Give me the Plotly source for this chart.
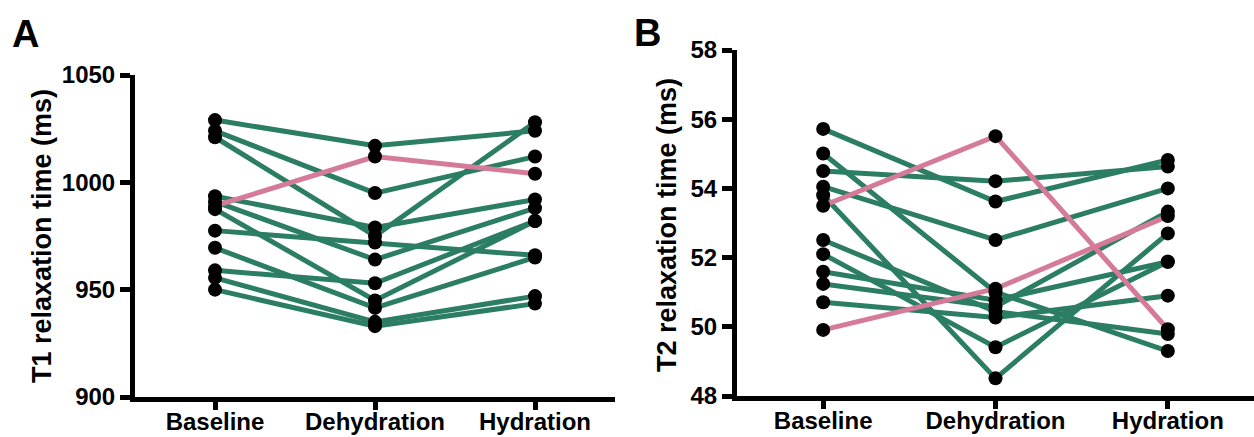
import plotly.graph_objects as go

W, H = 1254, 437
categories = ["Baseline", "Dehydration", "Hydration"]

# Panel A: T1 relaxation time (ms), one row per subject [Baseline, Dehydration, Hydration]
t1_subjects = [
    [1029, 1017, 1024],
    [1024, 995, 1012],
    [1021, 975, 1028],
    [993.5, 979, 992],
    [991, 964, 988],
    [987.5, 945, 982],
    [977.5, 972, 966],
    [969.5, 941.5, 965],
    [959, 953, 982],
    [955.5, 935, 947],
    [950, 933, 943.5],
]
t1_highlight = [[989, 1012, 1004]]

# Panel B: T2 relaxation time (ms)
t2_subjects = [
    [55.72, 53.62, 54.82],
    [55.01, 51.0, 49.3],
    [54.5, 54.21, 54.63],
    [54.05, 52.51, 54.0],
    [53.8, 48.51, 52.7],
    [52.51, 50.44, 49.79],
    [52.1, 49.41, 51.88],
    [51.59, 50.77, 51.88],
    [51.24, 50.58, 53.33],
    [50.71, 50.27, 50.9],
]
t2_highlight = [
    [53.5, 55.51, 49.93],
    [49.91, 51.1, 53.2],
]

t1_ticks = [900, 950, 1000, 1050]
t2_ticks = [48, 50, 52, 54, 56, 58]

GREEN = "#2B7D63"
PINK = "#D67A9A"
FONT = "Liberation Sans, Arial, sans-serif"

fig = go.Figure()


def add_panel(subjects, highlight, xa, ya):
    for s in subjects:
        fig.add_trace(go.Scatter(x=categories, y=s, mode="lines",
                                 line=dict(color=GREEN, width=5),
                                 xaxis=xa, yaxis=ya, showlegend=False,
                                 hoverinfo="skip"))
    for s in highlight:
        fig.add_trace(go.Scatter(x=categories, y=s, mode="lines",
                                 line=dict(color=PINK, width=5),
                                 xaxis=xa, yaxis=ya, showlegend=False,
                                 hoverinfo="skip"))
    for s in subjects + highlight:
        fig.add_trace(go.Scatter(x=categories, y=s, mode="markers",
                                 marker=dict(color="black", size=14),
                                 xaxis=xa, yaxis=ya, showlegend=False,
                                 cliponaxis=False))


add_panel(t1_subjects, t1_highlight, "x", "y")
add_panel(t2_subjects, t2_highlight, "x2", "y2")


def px_x(p):
    return p / W


def px_y(p):
    return (H - p) / H


axis_common = dict(showline=True, linecolor="black", linewidth=5,
                   ticks="outside", tickwidth=5, tickcolor="black",
                   showgrid=False, zeroline=False, automargin=False,
                   tickfont=dict(family=FONT, size=24, color="black", weight="bold"))
x_extra = dict(ticklen=8, ticklabelstandoff=-9)
y_extra = dict(ticklen=10)

fig.update_layout(
    template="none",
    width=W, height=H,
    margin=dict(l=0, r=0, t=0, b=0, pad=0),
    paper_bgcolor="white", plot_bgcolor="white",
    font=dict(family=FONT, color="black"),
    xaxis=dict(domain=[px_x(135), px_x(615)], range=[-0.5, 2.5], anchor="y",
               type="category", **axis_common, **x_extra),
    yaxis=dict(domain=[px_y(397), px_y(75)], range=[900, 1050], anchor="x",
               tickvals=t1_ticks, **axis_common, **y_extra),
    xaxis2=dict(domain=[px_x(737), 1.0], range=[-0.5, 2.5], anchor="y2",
                type="category", **axis_common, **x_extra),
    yaxis2=dict(domain=[px_y(396), px_y(50)], range=[48, 58], anchor="x2",
                tickvals=t2_ticks, **axis_common, **y_extra),
)

annots = [
    dict(text="<b>T1 relaxation time (ms)</b>", x=px_x(42), y=px_y(236), textangle=-90,
         font=dict(size=27)),
    dict(text="<b>T2 relaxation time (ms)</b>", x=px_x(667), y=px_y(225), textangle=-90,
         font=dict(size=27)),
    dict(text="<b>A</b>", x=px_x(25), y=px_y(34), font=dict(size=38)),
    dict(text="<b>B</b>", x=px_x(647), y=px_y(33), font=dict(size=38)),
]
for a in annots:
    fig.add_annotation(xref="paper", yref="paper", showarrow=False,
                       xanchor="center", yanchor="middle",
                       **{k: v for k, v in a.items() if k != "font"},
                       font=dict(family=FONT, color="black", **a["font"]))

fig.write_html("out.html", config={"displayModeBar": False},
               post_script="document.body.style.margin='0';document.body.style.overflow='hidden';")
